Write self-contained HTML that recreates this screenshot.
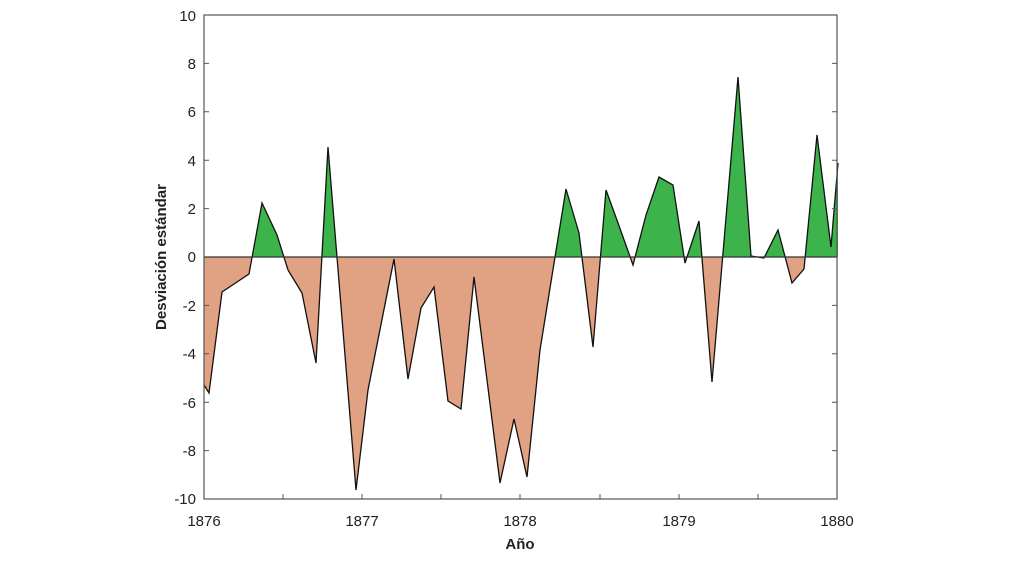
<!DOCTYPE html>
<html><head><meta charset="utf-8"><style>
html,body{margin:0;padding:0;background:#fff;}
svg{display:block;font-family:"Liberation Sans",sans-serif;}
</style></head><body>
<svg width="1013" height="563" viewBox="0 0 1013 563">
<defs>
<clipPath id="above"><rect x="204" y="15" width="634" height="242"/></clipPath>
<clipPath id="below"><rect x="204" y="257" width="634" height="242"/></clipPath>
</defs>
<rect x="204" y="15" width="633" height="484" fill="#fff"/>
<g id="shape">
<polygon clip-path="url(#above)" fill="#3db34b" points="204,257 204,385 209,393 222,292 249,274 262,203 277,235 288,270 302,293 316,363 328,147 356,490 368,390 394,259 408,379 421,308 434,287 448,401 461,409 474,277 500,483 514,419 527,477 540,350 566,189 579,233 593,347 606,190 618,223 633,265 646,215 659,177 673,185 685,263 699,221 712,382 738,77 751,256 764,258 778,230 792,283 804,269 817,135 831,247 838,163 838,257"/>
<polygon clip-path="url(#below)" fill="#e0a283" points="204,257 204,385 209,393 222,292 249,274 262,203 277,235 288,270 302,293 316,363 328,147 356,490 368,390 394,259 408,379 421,308 434,287 448,401 461,409 474,277 500,483 514,419 527,477 540,350 566,189 579,233 593,347 606,190 618,223 633,265 646,215 659,177 673,185 685,263 699,221 712,382 738,77 751,256 764,258 778,230 792,283 804,269 817,135 831,247 838,163 838,257"/>
<polyline fill="none" stroke="#111" stroke-width="1.3" points="204,385 209,393 222,292 249,274 262,203 277,235 288,270 302,293 316,363 328,147 356,490 368,390 394,259 408,379 421,308 434,287 448,401 461,409 474,277 500,483 514,419 527,477 540,350 566,189 579,233 593,347 606,190 618,223 633,265 646,215 659,177 673,185 685,263 699,221 712,382 738,77 751,256 764,258 778,230 792,283 804,269 817,135 831,247 838,163"/>
</g>
<line x1="204" y1="257" x2="837" y2="257" stroke="#333" stroke-width="1.3"/>
<rect x="204" y="15" width="633" height="484" fill="none" stroke="#555" stroke-width="1.2"/>
<g stroke="#555" stroke-width="1">
<path d="M204,63.4h5M204,111.8h5M204,160.2h5M204,208.6h5M204,305.4h5M204,353.8h5M204,402.2h5M204,450.6h5"/>
<path d="M837,63.4h-5M837,111.8h-5M837,160.2h-5M837,208.6h-5M837,305.4h-5M837,353.8h-5M837,402.2h-5M837,450.6h-5"/>
<path d="M283,499v-5M362,499v-5M441,499v-5M520,499v-5M600,499v-5M679,499v-5M758,499v-5"/>
</g>
<g font-size="15" fill="#222" text-anchor="end">
<text x="196" y="21">10</text><text x="196" y="69">8</text><text x="196" y="117">6</text><text x="196" y="166">4</text><text x="196" y="214">2</text><text x="196" y="262">0</text><text x="196" y="311">-2</text><text x="196" y="359">-4</text><text x="196" y="408">-6</text><text x="196" y="456">-8</text><text x="196" y="504">-10</text>
</g>
<g font-size="15" fill="#222" text-anchor="middle">
<text x="204" y="526">1876</text><text x="362" y="526">1877</text><text x="520" y="526">1878</text><text x="679" y="526">1879</text><text x="837" y="526">1880</text>
</g>
<text x="520" y="549" font-size="15" font-weight="bold" text-anchor="middle" fill="#222">Año</text>
<text transform="translate(166,257) rotate(-90)" font-size="15" font-weight="bold" text-anchor="middle" fill="#222">Desviación estándar</text>
</svg>
</body></html>
